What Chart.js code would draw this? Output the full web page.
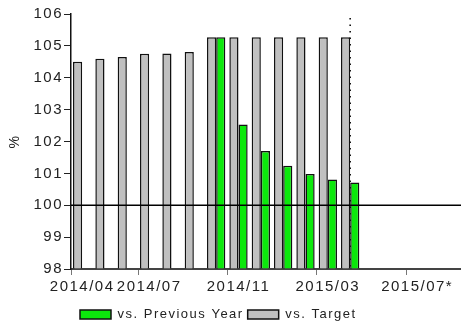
<!DOCTYPE html>
<html>
<head>
<meta charset="utf-8">
<script src="https://cdn.jsdelivr.net/npm/chart.js@4/dist/chart.umd.min.js"></script>
<style>
  html, body { margin: 0; padding: 0; overflow: hidden; background: #fff; }
  #wrap { width: 473px; height: 322px; position: relative; }
</style>
</head>
<body>
<div id="wrap"><canvas id="chart"></canvas></div>
<script>
// Monthly index values (%), April 2014 to September 2015
const months = [
  '2014/04', '2014/05', '2014/06', '2014/07', '2014/08', '2014/09',
  '2014/10', '2014/11', '2014/12', '2015/01', '2015/02', '2015/03',
  '2015/04', '2015/05', '2015/06', '2015/07*', '2015/08', '2015/09'
];
const labeledMonths = ['2014/04', '2014/07', '2014/11', '2015/03', '2015/07*'];
const currentMonth = '2015/04';

const vsTarget = [
  104.5, 104.6, 104.65, 104.75, 104.76, 104.81,
  105.27, 105.27, 105.27, 105.27, 105.27, 105.27,
  105.27, null, null, null, null, null
];
const vsPreviousYear = [
  null, null, null, null, null, null,
  105.27, 102.53, 101.70, 101.24, 100.98, 100.81,
  100.71, null, null, null, null, null
];

const yMin = 98;
const yMax = 106;
const yStep = 1;
const referenceLevel = 100;

const FONT = "'Liberation Sans', Arial, sans-serif";
const SPACING = '1.5px';

// Wider glyph spacing for all canvas text
const textSpacing = {
  id: 'textSpacing',
  beforeUpdate(chart) { chart.ctx.letterSpacing = SPACING; },
  beforeLayout(chart) { chart.ctx.letterSpacing = SPACING; },
  beforeDraw(chart) { chart.ctx.letterSpacing = SPACING; },
  resize(chart) { chart.ctx.letterSpacing = SPACING; }
};

// Legend row at a fixed left offset, lowered toward the bottom edge
const legendPlacement = {
  id: 'legendPlacement',
  afterLayout(chart) {
    const lg = chart.legend;
    lg.left = 80 - lg.options.labels.padding;
    lg.top = 304;
    lg.bottom = 322;
  }
};

// Dotted marker for the current month, behind the bars
const currentMarker = {
  id: 'currentMarker',
  beforeDatasetsDraw(chart) {
    const x = chart.scales.x.getPixelForValue(months.indexOf(currentMonth));
    const { top, bottom } = chart.chartArea;
    const ctx = chart.ctx;
    ctx.save();
    ctx.strokeStyle = '#000';
    ctx.lineWidth = 1.5;
    ctx.setLineDash([1.5, 5]);
    ctx.beginPath();
    ctx.moveTo(x, top + 4);
    ctx.lineTo(x, bottom);
    ctx.stroke();
    ctx.restore();
  }
};

// Solid reference line at 100 %, over the bars
const referenceLine = {
  id: 'referenceLine',
  afterDatasetsDraw(chart) {
    const y = chart.scales.y.getPixelForValue(referenceLevel);
    const { left, right } = chart.chartArea;
    const ctx = chart.ctx;
    ctx.save();
    ctx.strokeStyle = '#000';
    ctx.lineWidth = 1.5;
    ctx.beginPath();
    ctx.moveTo(left, y);
    ctx.lineTo(right, y);
    ctx.stroke();
    ctx.restore();
  }
};

new Chart(document.getElementById('chart'), {
  type: 'bar',
  data: {
    labels: months,
    datasets: [
      {
        label: 'vs. Target',
        data: vsTarget,
        backgroundColor: '#c0c0c0',
        borderColor: '#111',
        borderWidth: 1.5,
        base: yMin,
        barPercentage: 1,
        categoryPercentage: 0.82
      },
      {
        label: 'vs. Previous Year',
        data: vsPreviousYear,
        backgroundColor: '#0ce80c',
        borderColor: '#111',
        borderWidth: 1.5,
        base: yMin,
        barPercentage: 1,
        categoryPercentage: 0.82
      }
    ]
  },
  options: {
    responsive: true,
    maintainAspectRatio: false,
    animation: false,
    layout: { padding: { top: 14, left: 0, right: 0, bottom: 0 } },
    plugins: {
      tooltip: { enabled: false },
      legend: {
        position: 'bottom',
        align: 'start',
        labels: {
          boxWidth: 31,
          boxHeight: 9,
          padding: 4,
          color: '#222',
          font: { family: FONT, size: 13 },
          sort: (a, b) => b.datasetIndex - a.datasetIndex
        }
      }
    },
    scales: {
      x: {
        grid: {
          drawOnChartArea: false,
          tickLength: 6,
          tickWidth: 1,
          tickColor: (c) => (c.tick && labeledMonths.includes(months[c.index])) ? '#777' : 'rgba(0,0,0,0)'
        },
        border: { color: '#444', width: 2 },
        ticks: {
          autoSkip: false,
          maxRotation: 0,
          minRotation: 0,
          padding: 3,
          color: '#222',
          font: { family: FONT, size: 15 },
          callback: (v, i) => labeledMonths.includes(months[i]) ? months[i] : ''
        },
        afterFit(s) { s.height = 26; }
      },
      y: {
        min: yMin,
        max: yMax,
        grid: {
          drawOnChartArea: false,
          tickLength: 7,
          tickColor: '#222',
          tickWidth: 1
        },
        border: { color: '#111', width: 1.5 },
        ticks: {
          stepSize: yStep,
          padding: 1,
          color: '#222',
          font: { family: FONT, size: 15 }
        },
        title: {
          display: true,
          text: '%',
          color: '#222',
          font: { family: FONT, size: 14 },
          padding: { top: 7, bottom: 0 }
        },
        afterFit(s) { s.width = 71; }
      }
    }
  },
  plugins: [textSpacing, legendPlacement, currentMarker, referenceLine]
});
</script>
</body>
</html>
